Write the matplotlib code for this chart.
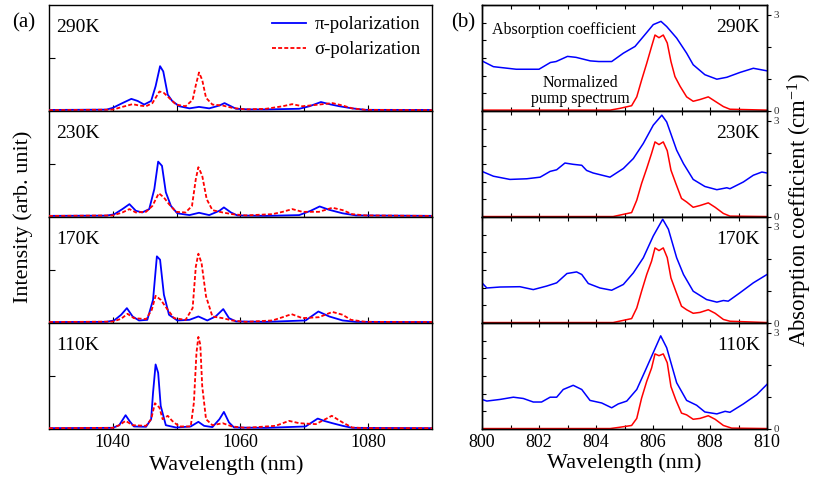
import matplotlib
matplotlib.use('Agg')
import matplotlib.pyplot as plt

plt.rcParams.update({
    'font.family': ['Liberation Serif', 'DejaVu Serif'],
    'mathtext.fontset': 'custom', 'mathtext.rm': 'Liberation Serif',
    'mathtext.it': 'Liberation Serif:italic', 'axes.linewidth': 1.0,
})

# ---- (a) emission spectra, intensity in panel units ----
temps = ['290K', '230K', '170K', '110K']

pi_290_nm = [1030, 1039, 1040, 1041.5, 1042.9, 1043.9, 1044.9, 1046.0, 1046.7, 1047.4, 1047.9, 1048.6, 1049.3,
             1050.4, 1052.0, 1053.5, 1055.1, 1056.7, 1057.5, 1058.5, 1059.3, 1061.4, 1064.0, 1069.2, 1070.8,
             1072.6, 1073.9, 1075.5, 1077.5, 1079.6, 1090]
pi_290 = [0.005, 0.008, 0.025, 0.07, 0.11, 0.09, 0.056, 0.09, 0.23, 0.42, 0.37, 0.15, 0.09, 0.04, 0.02, 0.034,
          0.02, 0.047, 0.07, 0.04, 0.016, 0.01, 0.01, 0.016, 0.04, 0.08, 0.06, 0.04, 0.02, 0.006, 0.005]
sig_290_nm = [1030, 1040, 1041.5, 1043.1, 1044.1, 1045.2, 1046.2, 1047.3, 1048.0, 1048.8, 1049.9, 1051.4, 1052.5,
              1053.0, 1053.5, 1054.0, 1054.6, 1055.6, 1057.2, 1058.7, 1060.8, 1064.0, 1066.6, 1068.1, 1069.7,
              1072.3, 1074.4, 1076.0, 1077.5, 1079.6, 1090]
sig_290 = [0.003, 0.008, 0.034, 0.06, 0.047, 0.04, 0.07, 0.18, 0.166, 0.12, 0.056, 0.04, 0.10, 0.24, 0.36, 0.29,
           0.12, 0.056, 0.047, 0.025, 0.01, 0.016, 0.04, 0.06, 0.04, 0.056, 0.07, 0.047, 0.02, 0.006, 0.003]

pi_230_nm = [1030, 1039, 1040.2, 1041.5, 1042.6, 1043.6, 1044.6, 1045.7, 1046.5, 1047.1, 1047.7, 1048.3, 1049.1,
             1050.1, 1052.0, 1053.5, 1055.1, 1056.7, 1057.4, 1058.5, 1059.5, 1064.0, 1069.2, 1071.0, 1072.4,
             1073.9, 1076.0, 1078.1, 1090]
pi_230 = [0.006, 0.008, 0.02, 0.07, 0.117, 0.054, 0.038, 0.07, 0.26, 0.52, 0.48, 0.23, 0.10, 0.03, 0.013, 0.035,
          0.013, 0.054, 0.086, 0.038, 0.01, 0.006, 0.013, 0.054, 0.095, 0.063, 0.03, 0.01, 0.006]
sig_230_nm = [1030, 1040, 1041.5, 1042.6, 1043.6, 1045.2, 1046.2, 1047.2, 1048.0, 1048.8, 1049.9, 1051.4, 1052.4,
              1053.0, 1053.4, 1054.0, 1054.7, 1055.6, 1057.2, 1058.7, 1060.8, 1065.0, 1066.6, 1068.1, 1069.7,
              1072.3, 1074.4, 1076.0, 1077.5, 1079.6, 1090]
sig_230 = [0.005, 0.01, 0.038, 0.07, 0.038, 0.044, 0.10, 0.22, 0.18, 0.117, 0.044, 0.038, 0.10, 0.355, 0.467,
           0.387, 0.165, 0.06, 0.038, 0.022, 0.01, 0.022, 0.044, 0.07, 0.044, 0.044, 0.083, 0.06, 0.022, 0.01, 0.005]

pi_170_nm = [1030, 1039, 1040.2, 1041.3, 1042.2, 1043.1, 1044.1, 1045.4, 1046.3, 1046.9, 1047.4, 1048.0, 1048.8,
             1050.1, 1052.0, 1053.4, 1054.8, 1056.1, 1057.3, 1058.2, 1059.3, 1064, 1070.2, 1072.2, 1073.9,
             1076.0, 1078.1, 1090]
pi_170 = [0.004, 0.006, 0.019, 0.073, 0.136, 0.057, 0.019, 0.025, 0.215, 0.627, 0.595, 0.263, 0.073, 0.019,
          0.025, 0.057, 0.019, 0.057, 0.127, 0.041, 0.01, 0.006, 0.019, 0.104, 0.057, 0.019, 0.006, 0.004]
sig_170_nm = [1030, 1040, 1041.3, 1042.3, 1043.3, 1045.2, 1046.1, 1046.7, 1047.5, 1048.6, 1049.6, 1051.4, 1052.5,
              1053.0, 1053.4, 1053.9, 1054.6, 1055.6, 1057.2, 1058.7, 1060.8, 1065.0, 1066.6, 1068.0, 1069.7,
              1072.3, 1074.4, 1076.0, 1077.3, 1079.6, 1090]
sig_170 = [0.004, 0.008, 0.035, 0.082, 0.041, 0.032, 0.12, 0.253, 0.215, 0.12, 0.041, 0.025, 0.136, 0.53, 0.652,
           0.563, 0.247, 0.057, 0.041, 0.019, 0.006, 0.019, 0.05, 0.079, 0.041, 0.05, 0.10, 0.073, 0.025, 0.006,
           0.004]

pi_110_nm = [1030, 1040, 1041.0, 1041.6, 1042.0, 1042.6, 1043.3, 1045.2, 1046.0, 1046.3, 1046.7, 1047.1, 1047.5,
             1048.3, 1049.9, 1052.2, 1053.4, 1054.3, 1055.6, 1056.7, 1057.4, 1058.2, 1059.0, 1064.0, 1070.2,
             1072.1, 1073.1, 1074.4, 1076.0, 1077.5, 1090]
pi_110 = [0.003, 0.006, 0.031, 0.088, 0.126, 0.072, 0.019, 0.016, 0.088, 0.34, 0.607, 0.528, 0.214, 0.031,
          0.009, 0.019, 0.063, 0.025, 0.013, 0.088, 0.157, 0.057, 0.009, 0.006, 0.019, 0.094, 0.072, 0.05, 0.025,
          0.006, 0.003]
sig_110_nm = [1030, 1040, 1041.0, 1042.0, 1043.1, 1045.2, 1046.0, 1046.6, 1047.3, 1047.8, 1048.6, 1049.3, 1050.4,
              1052.2, 1052.7, 1053.1, 1053.4, 1053.7, 1054.0, 1054.6, 1055.6, 1057.2, 1058.7, 1060.8, 1065.5,
              1067.6, 1069.2, 1071.8, 1074.3, 1076.0, 1077.5, 1079.6, 1090]
sig_110 = [0.003, 0.006, 0.031, 0.072, 0.031, 0.025, 0.088, 0.239, 0.198, 0.088, 0.12, 0.072, 0.019, 0.019,
           0.245, 0.717, 0.868, 0.796, 0.403, 0.088, 0.031, 0.05, 0.019, 0.006, 0.025, 0.072, 0.05, 0.041, 0.12,
           0.057, 0.009, 0.003, 0.003]

# ---- (b) absorption coefficient (cm^-1) and normalized pump spectrum ----
abs_290_nm = [800.0, 800.4, 801.2, 802.0, 802.4, 802.6, 803.0, 803.3, 803.8, 804.1, 804.55, 804.96, 805.37, 805.72,
              806.01, 806.28, 806.48, 806.83, 807.18, 807.41, 807.82, 808.24, 808.59, 809.05, 809.52, 810.0]
abs_290 = [1.56, 1.38, 1.30, 1.30, 1.51, 1.54, 1.70, 1.67, 1.56, 1.54, 1.54, 1.80, 2.01, 2.38, 2.69, 2.79, 2.63,
           2.27, 1.80, 1.44, 1.13, 0.99, 1.05, 1.20, 1.33, 1.25]
pump_290_nm = [800.0, 804.5, 804.84, 805.25, 805.43, 805.6, 805.78, 805.95, 806.07, 806.21, 806.36, 806.5, 806.63,
               806.77, 806.95, 807.18, 807.41, 807.65, 807.94, 808.18, 808.47, 808.7, 810.0]
pump_290 = [0.01, 0.01, 0.03, 0.06, 0.16, 0.35, 0.54, 0.73, 0.86, 0.83, 0.86, 0.77, 0.56, 0.39, 0.28, 0.16, 0.11,
            0.13, 0.16, 0.11, 0.05, 0.02, 0.01]

abs_230_nm = [800.0, 800.4, 800.98, 801.57, 802.04, 802.39, 802.62, 802.91, 803.2, 803.5, 803.67, 803.9, 804.49,
              804.96, 805.31, 805.66, 806.01, 806.31, 806.48, 806.83, 807.07, 807.41, 807.82, 808.24, 808.59, 808.7,
              809.17, 809.52, 809.82, 810.0]
abs_230 = [1.42, 1.27, 1.17, 1.19, 1.24, 1.42, 1.47, 1.68, 1.64, 1.61, 1.45, 1.37, 1.24, 1.51, 1.82, 2.29, 2.86,
           3.17, 2.96, 2.08, 1.66, 1.17, 0.95, 0.85, 0.91, 0.88, 1.09, 1.30, 1.40, 1.37]
pump_230_nm = [800.0, 804.6, 804.96, 805.25, 805.43, 805.6, 805.78, 805.95, 806.07, 806.21, 806.36, 806.5, 806.63,
               806.8, 807.0, 807.18, 807.41, 807.65, 807.94, 808.18, 808.47, 808.7, 810.0]
pump_230 = [0.005, 0.005, 0.03, 0.05, 0.19, 0.38, 0.55, 0.72, 0.85, 0.82, 0.85, 0.75, 0.53, 0.38, 0.21, 0.17, 0.11,
            0.13, 0.16, 0.11, 0.04, 0.01, 0.005]

abs_170_nm = [800.0, 800.17, 800.63, 801.33, 801.8, 802.27, 802.62, 802.98, 803.32, 803.5, 803.73, 804.14, 804.55,
              804.96, 805.31, 805.66, 806.01, 806.34, 806.54, 806.83, 807.07, 807.41, 807.88, 808.24, 808.47,
              808.64, 809.05, 809.52, 810.0]
abs_170 = [1.25, 1.09, 1.12, 1.13, 1.04, 1.15, 1.25, 1.54, 1.59, 1.51, 1.23, 1.09, 1.02, 1.20, 1.56, 2.03, 2.71,
           3.23, 2.92, 2.03, 1.51, 0.99, 0.73, 0.65, 0.70, 0.68, 0.94, 1.25, 1.51]
pump_170_nm = [800.0, 804.6, 804.96, 805.25, 805.43, 805.6, 805.78, 805.95, 806.07, 806.21, 806.36, 806.5, 806.63,
               806.8, 807.0, 807.18, 807.41, 807.65, 807.94, 808.18, 808.47, 808.7, 810.0]
pump_170 = [0.005, 0.005, 0.03, 0.05, 0.17, 0.36, 0.55, 0.70, 0.85, 0.82, 0.85, 0.74, 0.51, 0.36, 0.19, 0.15, 0.11,
            0.12, 0.15, 0.11, 0.04, 0.02, 0.005]

abs_110_nm = [800.0, 800.17, 800.63, 801.1, 801.45, 801.8, 802.09, 802.39, 802.62, 802.85, 803.2, 803.5, 803.79,
              804.2, 804.55, 804.78, 805.08, 805.43, 805.72, 806.01, 806.27, 806.48, 806.83, 807.18, 807.53, 807.82,
              808.24, 808.53, 808.7, 809.17, 809.64, 810.0]
abs_110 = [0.92, 0.87, 0.92, 0.99, 0.95, 0.84, 0.84, 0.99, 0.99, 1.23, 1.36, 1.23, 0.89, 0.81, 0.66, 0.78, 0.87,
           1.23, 1.80, 2.38, 2.90, 2.53, 1.44, 0.89, 0.74, 0.53, 0.47, 0.55, 0.52, 0.78, 1.07, 1.39]
pump_110_nm = [800.0, 804.5, 804.84, 805.25, 805.43, 805.6, 805.78, 805.95, 806.07, 806.21, 806.36, 806.5, 806.63,
               806.8, 807.0, 807.18, 807.41, 807.65, 807.94, 808.18, 808.47, 808.76, 810.0]
pump_110 = [0.005, 0.005, 0.02, 0.04, 0.12, 0.35, 0.54, 0.69, 0.85, 0.83, 0.85, 0.75, 0.48, 0.33, 0.18, 0.16, 0.11,
            0.12, 0.15, 0.11, 0.04, 0.01, 0.005]

left_data = [(pi_290_nm, pi_290, sig_290_nm, sig_290), (pi_230_nm, pi_230, sig_230_nm, sig_230),
             (pi_170_nm, pi_170, sig_170_nm, sig_170), (pi_110_nm, pi_110, sig_110_nm, sig_110)]
right_data = [(abs_290_nm, abs_290, pump_290_nm, pump_290), (abs_230_nm, abs_230, pump_230_nm, pump_230),
              (abs_170_nm, abs_170, pump_170_nm, pump_170), (abs_110_nm, abs_110, pump_110_nm, pump_110)]

W, H = 814, 479
BLUE, RED = '#0000ff', '#ff0000'
DASH = (0, (2.2, 1.2))
fig = plt.figure(figsize=(W / 100, H / 100), dpi=100)

for i, (T, (xb, yb, xr, yr)) in enumerate(zip(temps, left_data)):
    top = 5 + i * 106
    ax = fig.add_axes([49 / W, 1 - (top + 106) / H, 383 / W, 106 / H])
    ax.plot(xb, yb, color=BLUE, lw=1.3, label='π-polarization', zorder=3)
    ax.plot(xr, yr, color=RED, lw=1.3, ls=DASH, label='σ-polarization', zorder=4)
    ax.set_xlim(1030, 1090); ax.set_ylim(-0.005, 1)
    ax.set_xticks([1040, 1050, 1060, 1070, 1080])
    ax.set_yticks([0.5]); ax.set_yticklabels([])
    ax.tick_params(direction='in', length=4, width=0.8, labelsize=13)
    if i == 3:
        ax.set_xticklabels(['1040', '', '1060', '', '1080'])
    else:
        ax.set_xticklabels([])
    ax.text(0.018, 0.79, T, transform=ax.transAxes, fontsize=14, va='center', ha='left')
    if i == 0:
        ax.legend(loc='upper right', frameon=False, fontsize=13.5, handlelength=1.8, handletextpad=0.45,
                  labelspacing=0.42, borderaxespad=0.2)

for i, (T, (xa, ya, xp, yp)) in enumerate(zip(temps, right_data)):
    top = 5 + i * 106
    ax = fig.add_axes([482 / W, 1 - (top + 106) / H, 285 / W, 106 / H])
    ax.plot(xp, yp, color=RED, lw=1.1)
    ax.set_xlim(800, 810); ax.set_ylim(0, 1.2)
    ax.set_xticks(range(800, 811))
    ax.set_yticks([0, 0.2, 0.4, 0.6, 0.8, 1.0, 1.2]); ax.set_yticklabels([])
    ax.tick_params(direction='in', length=3, width=0.8, top=True, labelsize=13)
    if i == 3:
        ax.set_xticklabels([str(v) if v % 2 == 0 else '' for v in range(800, 811)])
    else:
        ax.set_xticklabels([])
    ax2 = ax.twinx()
    ax2.plot(xa, ya, color=BLUE, lw=1.1)
    ax2.set_ylim(0, 3.3)
    ax2.set_yticks([0, 1, 2, 3]); ax2.set_yticklabels(['0', '', '', '3'])
    ax2.tick_params(direction='out', length=3, width=0.8, labelsize=8, labelcolor='#333333', pad=2)
    ax.text(0.975, 0.79, T, transform=ax.transAxes, fontsize=14, va='center', ha='right')
    if i == 0:
        ax.text(564 / W, 1 - 30 / H, 'Absorption coefficient', transform=fig.transFigure, fontsize=11.5,
                ha='center', va='center')
        ax.text(580 / W, 1 - 91 / H, 'Normalized\npump spectrum', transform=fig.transFigure, fontsize=11.5,
                ha='center', va='center', linespacing=1.0)

fig.text(23.5 / W, 1 - 23 / H, '(a)', fontsize=15, ha='center', va='center')
fig.text(463 / W, 1 - 23 / H, '(b)', fontsize=15, ha='center', va='center')
fig.text(226 / W, 1 - 465 / H, 'Wavelength (nm)', fontsize=16, ha='center', va='center')
fig.text(624 / W, 1 - 463 / H, 'Wavelength (nm)', fontsize=16, ha='center', va='center')
fig.text(23 / W, 1 - 217 / H, 'Intensity (arb. unit)', fontsize=16, ha='center', va='center', rotation=90)
fig.text(800 / W, 1 - 210 / H, r'Absorption coefficient (cm$^{-1}$)', fontsize=16.5, ha='center', va='center',
         rotation=90)

fig.savefig('out.png', dpi=100)
